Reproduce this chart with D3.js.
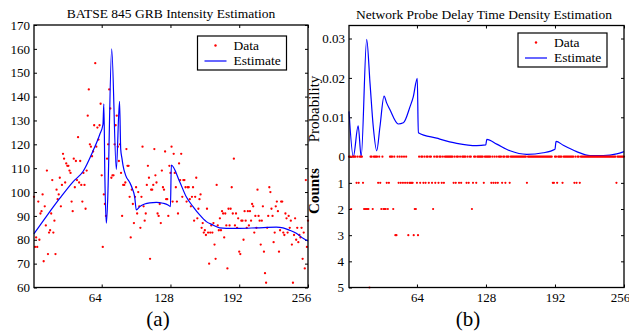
<!DOCTYPE html>
<html>
<head>
<meta charset="utf-8">
<script src="https://cdn.jsdelivr.net/npm/d3@7"></script>
<style>
  body { margin: 0; background: #fff; }
  text { font-family: "Liberation Serif", "Times New Roman", serif; fill: #000; }
</style>
</head>
<body>
<svg id="chart" width="629" height="335"></svg>
<script>
// ---- (a) BATSE 845 GRB intensity: one count per time bin 1..256
const grbCounts = [
  98, 77, 81, 77, 96, 80, 91, 92, 99, 71, 94, 86, 109, 74, 83, 84, 91, 105, 83, 88,
  74, 101, 97, 99, 106, 94, 103, 116, 114, 104, 112, 111, 111, 109, 108, 96, 92, 114, 102, 113,
  105, 123, 104, 113, 103, 96, 108, 103, 93, 109, 132, 143, 120, 119, 115, 117, 128, 154, 119, 127,
  122, 128, 137, 107, 77,
  99, 95, 90, 114, 120, 143, 135, 106, 107, 107, 120, 128, 132, 119, 113, 120, 108, 90, 103, 103,
  104, 118, 111, 111, 98, 81, 101, 95, 87, 98, 102, 91, 100, 94, 85, 98, 119, 94, 88, 91,
  103, 111, 106, 72, 101, 101, 103, 118, 107, 104, 91, 90, 95, 87, 109, 102, 101, 117, 97, 97,
  90, 111, 108, 119, 96,
  116, 108, 102, 96, 91, 112, 105, 116, 98, 105, 105, 102, 96, 102, 102, 97, 94, 98, 102, 88,
  98, 106, 89, 93, 97, 99, 85, 87, 83, 84, 82, 93, 83, 70, 83, 86, 83, 87, 78, 72,
  103, 86, 84, 89, 84, 92, 91, 81, 91, 86, 68, 93, 86, 93, 102, 91, 114, 86, 91, 85,
  89, 75, 74, 88, 88,
  80, 92, 88, 85, 92, 86, 92, 88, 95, 94, 83, 90, 85, 101, 90, 88, 78, 88, 94, 75,
  66, 62, 85, 90, 102, 100, 93, 90, 79, 83, 94, 96, 92, 75, 84, 96, 96, 83, 82, 91,
  89, 83, 90, 85, 88, 78, 62, 82, 89, 80, 85, 79, 82, 81, 85, 72, 83, 68, 105, 77,
  88
];
// estimate curve, read as (bin, intensity) knots
const grbEstBin = [1, 12.4, 24.9, 37.3, 46.6, 55.9, 62.1, 65.2, 66, 67, 68.3, 69.5, 73.3, 77.6, 80.6,
  81.7, 82.9, 83.8, 86.3, 90.1, 92.5, 94.7, 96.2, 99.4, 104, 108.7, 114.8, 121.1, 125.7, 128,
  128.8, 136.6, 142.7, 149, 155.2, 161.4, 167.6, 173.8, 180, 192.4, 207.9, 226.5, 232.7, 238.9,
  245.1, 251.4, 256];
const grbEstVal = [82.5, 89.7, 97.3, 104.3, 108.6, 117.2, 124, 128.4, 137, 105, 87, 96, 160, 109.5, 138,
  118, 114, 111.3, 107, 104, 101.5, 98, 92.5, 93.9, 95, 95.5, 95.7, 95.3, 94.6, 93.9,
  111.3, 104.3, 98, 93.9, 90.4, 87.6, 86.2, 85, 84.8, 84.8, 85, 85.3, 85, 84,
  82.7, 80.6, 79.5];
const grbYTicks = [60, 70, 80, 90, 100, 110, 120, 130, 140, 150, 160, 170];

// ---- (b) network probe delays: bins with a nonzero count, the rest are 0
const netBinsCount1 = [8, 10, 14, 28, 30, 36, 38, 47, 49, 51, 53, 55, 57, 58, 59, 60, 64, 67, 70, 72,
  75, 78, 81, 84, 87, 89, 98, 100, 103, 105, 110, 112, 116, 119, 126, 133, 135, 137, 139, 143,
  146, 150, 166, 190, 191, 194, 199, 210, 212, 215, 249];
const netBinsCount2 = [3, 15, 16, 17, 18, 19, 23, 31, 33, 34, 35, 37, 42, 62, 63, 79, 115];
const netBinsCount3 = [44, 45, 56, 61, 65];
const netBinsCount5 = [20];
const netEstBin = [1, 5, 9.5, 12.3, 17.4, 20.5, 23.5, 26.7, 29.7, 33.5, 36, 39, 46.7, 51.4, 57.6,
  60.6, 64.3, 65.3, 82.3, 100.9, 119.4, 127.8, 128.8, 138, 150.3, 165.8, 181.2, 192, 193,
  199.7, 212.1, 224.5, 236.8, 249.2, 256];
const netEstVal = [0.0115, 0, 0.0078, 0, 0.0298, 0.0186, 0.0076, 0.0015, 0.0076, 0.0154, 0.0136, 0.0119,
  0.0083, 0.0086, 0.0127, 0.0152, 0.0199, 0.0061, 0.0047, 0.0034, 0.0028, 0.003, 0.0044, 0.0032,
  0.0015, 0.0006, 0.001, 0.0019, 0.0039, 0.0029, 0.0013, 0.0003, 0.0003, 0.0007, 0.0013];
const netProbTicks = [0, 0.01, 0.02, 0.03];
const netCountTicks = [1, 2, 3, 4, 5];

const binTicks = [64, 128, 192, 256];

const svg = d3.select('#chart');
const TICK = 3;

function styleAxis(g, size) {
  g.select('.domain').remove();
  g.selectAll('line').attr('stroke', '#000');
  g.selectAll('text').attr('font-family', '"Liberation Serif", serif').attr('font-size', size).attr('fill', '#000');
  g.attr('font-family', null).attr('font-size', null);
}

function drawFrame(x0, x1, y0, y1) {
  svg.append('rect')
    .attr('x', x0).attr('y', y0)
    .attr('width', x1 - x0).attr('height', y1 - y0)
    .attr('fill', 'none').attr('stroke', '#000').attr('stroke-width', 1.3);
}

function drawLegend(x, y) {
  const g = svg.append('g').attr('transform', 'translate(' + x + ',' + y + ')');
  g.append('rect').attr('width', 89).attr('height', 34)
    .attr('fill', '#fff').attr('stroke', '#000').attr('stroke-width', 1.2);
  g.append('circle').attr('cx', 18).attr('cy', 9.5).attr('r', 1.2).attr('fill', '#ff0000');
  g.append('text').attr('x', 36).attr('y', 14).attr('font-size', 13.5).text('Data');
  g.append('line').attr('x1', 7).attr('x2', 29).attr('y1', 25).attr('y2', 25)
    .attr('stroke', '#0000ff').attr('stroke-width', 1.2);
  g.append('text').attr('x', 36).attr('y', 29).attr('font-size', 13.5).text('Estimate');
}

// ================= panel (a) =================
const ax = { x0: 34, x1: 308, y0: 25, y1: 287.5 };
const xA = d3.scaleLinear().domain([1, 256]).range([ax.x0, ax.x1]);
const yA = d3.scaleLinear().domain([60, 170]).range([ax.y1, ax.y0]);

svg.append('g')
  .attr('transform', 'translate(0,' + ax.y1 + ')')
  .call(d3.axisBottom(xA).tickValues(binTicks).tickSizeInner(-TICK).tickSizeOuter(0).tickPadding(5))
  .call(g => styleAxis(g, 13))
  .call(g => g.selectAll('text').attr('dx', -7));
svg.append('g')
  .attr('transform', 'translate(0,' + ax.y0 + ')')
  .call(d3.axisTop(xA).tickValues(binTicks).tickSizeInner(-TICK).tickSizeOuter(0).tickFormat(''))
  .call(g => styleAxis(g, 13));
svg.append('g')
  .attr('transform', 'translate(' + ax.x0 + ',0)')
  .call(d3.axisLeft(yA).tickValues(grbYTicks).tickSizeInner(-TICK).tickSizeOuter(0).tickPadding(4))
  .call(g => styleAxis(g, 13));
svg.append('g')
  .attr('transform', 'translate(' + ax.x1 + ',0)')
  .call(d3.axisRight(yA).tickValues(grbYTicks).tickSizeInner(-TICK).tickSizeOuter(0).tickFormat(''))
  .call(g => styleAxis(g, 13));

svg.append('g').selectAll('circle')
  .data(grbCounts)
  .join('circle')
  .attr('cx', (d, i) => xA(i + 1))
  .attr('cy', d => yA(d))
  .attr('r', 1.15)
  .attr('fill', '#ff0000');

svg.append('path')
  .datum(grbEstBin.map((b, i) => [b, grbEstVal[i]]))
  .attr('fill', 'none')
  .attr('stroke', '#0000ff')
  .attr('stroke-width', 1.2)
  .attr('d', d3.line().x(d => xA(d[0])).y(d => yA(d[1])).curve(d3.curveMonotoneX));

drawFrame(ax.x0, ax.x1, ax.y0, ax.y1);
drawLegend(197.5, 36);

svg.append('text').attr('x', 171).attr('y', 18).attr('text-anchor', 'middle')
  .attr('font-size', 13.5).text('BATSE 845 GRB Intensity Estimation');
svg.append('text').attr('x', 158).attr('y', 326).attr('text-anchor', 'middle')
  .attr('font-size', 21).text('(a)');

// ================= panel (b) =================
const bx = { x0: 349, x1: 624, y0: 25.5, y1: 287.5, zero: 156.7 };
const xB = d3.scaleLinear().domain([1, 256]).range([bx.x0, bx.x1]);
const yProb = d3.scaleLinear().domain([0, 0.0333]).range([bx.zero, bx.y0]);
const yCnt = d3.scaleLinear().domain([0, 5]).range([bx.zero, bx.y1]);

const netCounts = d3.range(1, 257).map(b => {
  if (netBinsCount5.includes(b)) return 5;
  if (netBinsCount3.includes(b)) return 3;
  if (netBinsCount2.includes(b)) return 2;
  if (netBinsCount1.includes(b)) return 1;
  return 0;
});

svg.append('g')
  .attr('transform', 'translate(0,' + bx.y1 + ')')
  .call(d3.axisBottom(xB).tickValues(binTicks).tickSizeInner(-TICK).tickSizeOuter(0).tickPadding(5))
  .call(g => styleAxis(g, 13))
  .call(g => g.selectAll('text').filter(d => d === 256).attr('dx', -4));
svg.append('g')
  .attr('transform', 'translate(0,' + bx.y0 + ')')
  .call(d3.axisTop(xB).tickValues(binTicks).tickSizeInner(-TICK).tickSizeOuter(0).tickFormat(''))
  .call(g => styleAxis(g, 13));
svg.append('g')
  .attr('transform', 'translate(' + bx.x0 + ',0)')
  .call(d3.axisLeft(yProb).tickValues(netProbTicks).tickSizeInner(-TICK).tickSizeOuter(0).tickPadding(4)
    .tickFormat(d => d === 0 ? '0' : d.toFixed(2)))
  .call(g => styleAxis(g, 13));
svg.append('g')
  .attr('transform', 'translate(' + bx.x0 + ',0)')
  .call(d3.axisLeft(yCnt).tickValues(netCountTicks).tickSizeInner(-TICK).tickSizeOuter(0).tickPadding(5)
    .tickFormat(d3.format('d')))
  .call(g => styleAxis(g, 13));
svg.append('g')
  .attr('transform', 'translate(' + bx.x1 + ',0)')
  .call(d3.axisRight(yProb).tickValues(netProbTicks.slice(1)).tickSizeInner(-TICK).tickSizeOuter(0).tickFormat(''))
  .call(g => styleAxis(g, 13));
svg.append('g')
  .attr('transform', 'translate(' + bx.x1 + ',0)')
  .call(d3.axisRight(yCnt).tickValues(netCountTicks.slice(0, 4)).tickSizeInner(-TICK).tickSizeOuter(0).tickFormat(''))
  .call(g => styleAxis(g, 13));

svg.append('path')
  .datum(netEstBin.map((b, i) => [b, netEstVal[i]]))
  .attr('fill', 'none')
  .attr('stroke', '#0000ff')
  .attr('stroke-width', 1.2)
  .attr('d', d3.line().x(d => xB(d[0])).y(d => yProb(d[1])).curve(d3.curveMonotoneX));

svg.append('g').selectAll('circle')
  .data(netCounts)
  .join('circle')
  .attr('cx', (d, i) => xB(i + 1))
  .attr('cy', d => yCnt(d))
  .attr('r', 1.1)
  .attr('fill', '#ff0000');

drawFrame(bx.x0, bx.x1, bx.y0, bx.y1);
drawLegend(518, 33);

svg.append('text').attr('x', 484).attr('y', 18.5).attr('text-anchor', 'middle')
  .attr('font-size', 13.5).text('Network Probe Delay Time Density Estimation');
svg.append('text').attr('transform', 'translate(319,109) rotate(-90)').attr('text-anchor', 'middle')
  .attr('font-size', 15).text('Probability');
svg.append('text').attr('transform', 'translate(319,191) rotate(-90)').attr('text-anchor', 'middle')
  .attr('font-size', 15).attr('font-weight', 'bold').text('Counts');
svg.append('text').attr('x', 468).attr('y', 326).attr('text-anchor', 'middle')
  .attr('font-size', 21).text('(b)');
</script>
</body>
</html>
